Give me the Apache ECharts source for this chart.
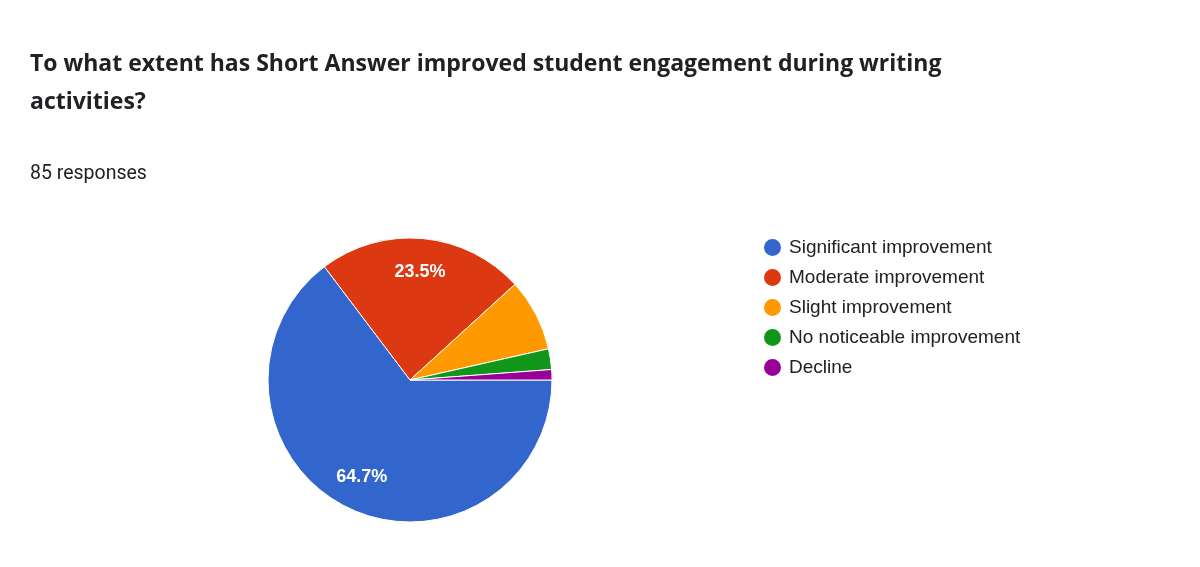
<!DOCTYPE html>
<html>
<head>
<meta charset="utf-8">
<script src="https://cdn.jsdelivr.net/npm/echarts@6/dist/echarts.min.js"></script>
<style>
  html, body { margin: 0; padding: 0; background: #fff; }
  #main { width: 1200px; height: 567px; }
</style>
</head>
<body>
<div id="main"></div>
<script>
// survey answers, 85 responses in total
var categories = ["Significant improvement", "Moderate improvement", "Slight improvement", "No noticeable improvement", "Decline"];
var counts = [55, 20, 7, 2, 1];
var colors = ["#3366cc", "#dc3912", "#ff9900", "#109618", "#990099"];

var pieData = [];
for (var i = 0; i < categories.length; i++) {
  pieData.push({ name: categories[i], value: counts[i] });
}

var chart = echarts.init(document.getElementById('main'));

chart.setOption({
  color: colors,
  animation: false,
  title: {
    text: "To what extent has Short Answer improved student engagement during writing\nactivities?",
    subtext: "85 responses",
    left: 25,
    top: 40,
    itemGap: 42,
    textStyle: { fontFamily: "Open Sans", fontWeight: "bold", fontSize: 23, lineHeight: 38, color: "#202124" },
    subtextStyle: { fontFamily: "Roboto", fontSize: 19.5, lineHeight: 22, color: "#202124" }
  },
  legend: {
    orient: "vertical",
    left: 757,
    top: 232,
    icon: "circle",
    itemWidth: 19,
    itemHeight: 19,
    itemGap: 9,
    textStyle: { fontFamily: "Liberation Sans", fontSize: 19, color: "#222", padding: [0, 0, 0, 2] },
    data: categories
  },
  series: [
    { // visible pie
      type: "pie",
      center: [410, 380],
      radius: [0, 142],
      startAngle: 0,
      clockwise: true,
      itemStyle: { borderColor: "#fff", borderWidth: 1 },
      label: { show: false },
      labelLine: { show: false },
      emphasis: { disabled: true },
      data: pieData
    },
    { // transparent copy, only there to place the percent labels further out
      type: "pie",
      center: [410, 380],
      radius: [0, 210],
      startAngle: 0,
      clockwise: true,
      silent: true,
      itemStyle: { color: "transparent" },
      label: {
        show: true,
        position: "inside",
        fontFamily: "Liberation Sans",
        fontWeight: "bold",
        fontSize: 18,
        color: "#fff",
        formatter: function (p) { return p.percent >= 20 ? p.percent.toFixed(1) + "%" : ""; }
      },
      labelLine: { show: false },
      data: pieData
    }
  ]
});
</script>
</body>
</html>
